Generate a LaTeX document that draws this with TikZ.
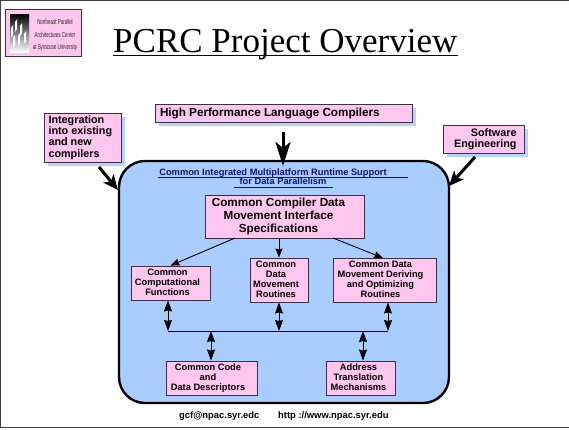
\documentclass[tikz,border=0pt]{standalone}
\usepackage{fontspec}
\usepackage{graphicx}
\setmainfont{Liberation Sans}
\newfontfamily\serifface{Liberation Serif}
\usetikzlibrary{arrows.meta,shadows,calc}
\definecolor{pinkfill}{HTML}{FFC6EE}
\definecolor{paleblue}{HTML}{A9CDFF}
\definecolor{shadowblue}{HTML}{B4D4FF}
\definecolor{boxedge}{HTML}{3A3048}
\definecolor{headblue}{HTML}{10107A}
\definecolor{framegray}{HTML}{404040}
\newcommand{\shiftlines}[2]{\kern#1\begin{tabular}{@{}c@{}}#2\end{tabular}}
\tikzset{
  pinkbox/.style={draw=boxedge,line width=0.9pt,fill=pinkfill,inner sep=0pt,font=\bfseries\fontsize{9.3}{10}\selectfont,text=black},
  outerbox/.style={pinkbox,font=\bfseries\fontsize{10.8}{11.4}\selectfont,drop shadow={shadow xshift=4pt,shadow yshift=-4pt,fill=shadowblue,opacity=1}},
  heavyarrow/.style={line width=3pt,black,-{Stealth[length=15pt,width=13pt,inset=4pt]}},
  biggerarrow/.style={line width=3pt,black,-{Stealth[length=24pt,width=15pt,inset=6pt]}},
  thinarrow/.style={line width=0.9pt,black,-{Stealth[length=9pt,width=7pt,inset=1pt]}},
  twoway/.style={line width=0.9pt,black,{Stealth[length=11pt,width=8pt,inset=1pt]}-{Stealth[length=11pt,width=8pt,inset=1pt]}},
  busline/.style={line width=0.9pt,black},
  plainlabel/.style={inner sep=0pt,font=\bfseries\fontsize{9.3}{9.8}\selectfont},
}
\begin{document}
\begin{tikzpicture}[x=1pt,y=-1pt]
\useasboundingbox (0,0) rectangle (569,429);
\fill[white] (0,0) rectangle (569,429);
\draw[framegray,line width=1.2pt] (0.5,428) -- (0.5,0.5) -- (569,0.5);
\draw[framegray,line width=1.2pt] (0,427.5) -- (569,427.5);
% logo
\node[draw=boxedge,line width=0.8pt,fill=pinkfill,minimum width=76pt,minimum height=47pt,inner sep=0pt,
  drop shadow={shadow xshift=0.8pt,shadow yshift=-0.8pt,fill=gray,opacity=1}] (logo) at (43.5,33) {};
\shade[top color=black,bottom color=white,middle color=gray] (10,14) rectangle (29,52);
\foreach \px/\py in {11/28,15/22,20/26,24/34,13/38,18/36}
  \fill[white] (\px,\py) -- ++(2.2,-3) -- ++(0,10) -- ++(-2.2,3) -- cycle;
\node[inner sep=0pt,font=\fontsize{7.2}{12.8}\selectfont,text=black!85] (logotext) at (55,34.5)
  {\scalebox{.62}[1]{\begin{tabular}{@{}c@{}}Northeast Parallel\\Architectures Center\\at Syracuse University\end{tabular}}};
% title
\node[inner sep=0pt,anchor=base west,font=\serifface\fontsize{35}{35}\selectfont] (title) at (113,52) {PCRC Project Overview};
\draw[black,line width=1.5pt] (title.base west |- 0,55.5) coordinate (ula) -- (458,55.5) coordinate (ulb);
% big panel
\node[draw=black,line width=2.4pt,fill=paleblue,rounded corners=26pt,minimum width=330pt,minimum height=242pt,inner sep=0pt] (panel) at (284,282) {};
% outer boxes
\node[outerbox,minimum width=257pt,minimum height=18pt] (hplc) at (283.5,113)
  {\parbox{247pt}{\fontsize{11.7}{12}\selectfont High Performance Language Compilers}};
\node[outerbox,minimum width=77pt,minimum height=49pt] (integ) at (82.5,137.5)
  {\parbox{68pt}{Integration\\into existing\\and new\\compilers}};
\node[outerbox,minimum width=81pt,minimum height=28pt] (soft) at (483.5,139)
  {\parbox{66pt}{\raggedleft Software\\Engineering}};
% heading
\node[plainlabel,text=headblue] (head) at (273,178)
  {\begin{tabular}{@{}c@{}}Common Integrated Multiplatform Runtime Support\\\hspace*{20pt}for Data Parallelism\end{tabular}};
\draw[headblue,line width=0.6pt] (158,177.5) coordinate (ha) -- (408,177.5) coordinate (hb);
\draw[headblue,line width=0.6pt] (234,187.5) coordinate (hc) -- (333,187.5) coordinate (hd);
% inner boxes
\node[pinkbox,font=\bfseries\fontsize{11.7}{13}\selectfont,minimum width=159pt,minimum height=43pt] (main) at (284.5,216.5)
  {\shiftlines{-12pt}{Common Compiler Data\\Movement Interface\\Specifications}};
\node[pinkbox,minimum width=79pt,minimum height=34pt] (ccf) at (170.5,283) {\shiftlines{-6pt}{Common\\Computational\\Functions}};
\node[pinkbox,minimum width=58pt,minimum height=44pt] (cdmr) at (279,280) {\shiftlines{-6pt}{Common\\Data\\Movement\\Routines}};
\node[pinkbox,minimum width=103pt,minimum height=44pt] (cdmd) at (384.5,280) {\shiftlines{-8pt}{Common Data\\Movement Deriving\\and Optimizing\\Routines}};
\node[pinkbox,minimum width=91pt,minimum height=34pt] (ccdd) at (211.5,378) {\shiftlines{-7pt}{Common Code\\and\\Data Descriptors}};
\node[pinkbox,minimum width=69pt,minimum height=34pt] (atm) at (360.5,378) {\shiftlines{-4pt}{Address\\Translation\\Mechanisms}};
% heavy arrows
\coordinate (hplctail) at (283,132);
\coordinate (integtail) at (99,167);
\coordinate (softtail) at (475,157);
\draw[biggerarrow] (hplctail) -- (283,166) coordinate (hplchead);
\draw[heavyarrow] (integtail) -- (118,190) coordinate (integhead);
\draw[heavyarrow] (softtail) -- (449,186) coordinate (softhead);
% thin arrows
\draw[thinarrow] (235,238) -- (ccf.north);
\draw[thinarrow] (main.south -| cdmr.north) -- (cdmr.north);
\draw[thinarrow] (333,238) -- (383,258);
% bus
\coordinate (busl) at (168,331);
\coordinate (busm) at (279,331);
\coordinate (busr) at (388,331);
\coordinate (busa) at (211,331);
\coordinate (busb) at (363,331);
\draw[busline] (busl) -- (busr);
\draw[twoway] (ccf.south -| busl) -- (busl);
\draw[twoway] (cdmr.south -| busm) -- (busm);
\draw[twoway] (cdmd.south -| busr) -- (busr);
\draw[twoway] (busa) -- (ccdd.north -| busa);
\draw[twoway] (busb) -- (atm.north -| busb);
% footer
\node[inner sep=0pt,anchor=base west,font=\bfseries\fontsize{9.4}{10}\selectfont] (mail) at (179,418) {gcf@npac.syr.edc};
\node[inner sep=0pt,anchor=base west,font=\bfseries\fontsize{9.4}{10}\selectfont] (web) at (278,418) {http ://www.npac.syr.edu};
\end{tikzpicture}
\end{document}
